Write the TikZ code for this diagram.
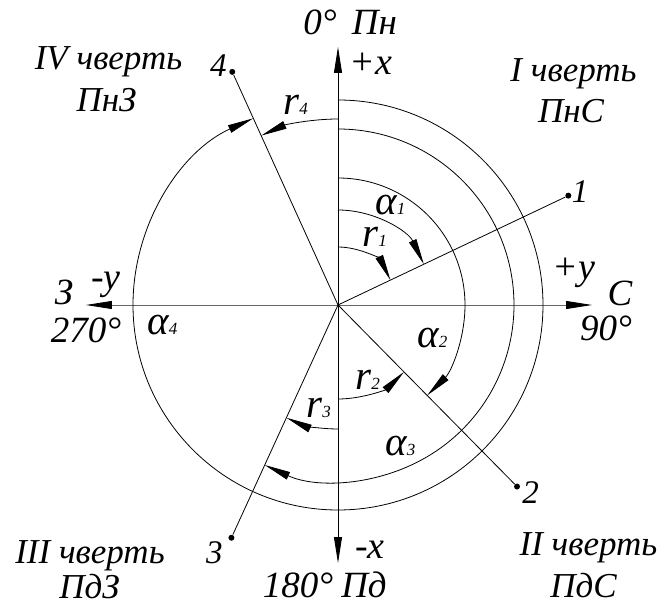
\documentclass[tikz,border=0pt]{standalone}
\usepackage{fontspec}
\setmainfont{Liberation Serif}
\usetikzlibrary{arrows.meta, calc}

\newcommand{\lowidx}[1]{{\fontsize{17}{17}\selectfont #1}}

\begin{document}
\begin{tikzpicture}[
    x=1pt, y=1pt,
    line width=0.8pt,
    every node/.style={inner sep=0pt},
    tip/.style={-{Triangle[length=26pt, width=8pt, color=black]}},
    quad/.style={font=\fontsize{35}{35}\selectfont\itshape, anchor=base},
    biglbl/.style={font=\fontsize{37}{37}\selectfont\itshape, anchor=base},
    midlbl/.style={font=\fontsize{38}{38}\selectfont\itshape, anchor=base},
    numlbl/.style={font=\fontsize{33}{33}\selectfont\itshape, anchor=base},
    arclbl/.style={font=\fontsize{41}{41}\selectfont\itshape, anchor=base west},
    dot/.style={circle, fill=black, minimum size=6pt}
]
\useasboundingbox (-338,-302) rectangle (326,305);

% --- Axes ---
\coordinate (O) at (0,0);
\coordinate (xtop) at (0,258);
\coordinate (xbot) at (0,-258);
\coordinate (yright) at (254,0);
\coordinate (yleft) at (-252,0);
\draw[tip] (O) -- (xtop);
\draw[tip] (O) -- (xbot);
\draw[tip, black!60] (O) -- (yright);
\draw[tip, black!60] (O) -- (yleft);

% --- Points and bearings ---
\node[dot] (p1) at (25.4:255) {};
\node[dot] (p2) at (-45.4:255) {};
\node[dot] (p3) at (245.4:256) {};
\node[dot] (p4) at (114.4:256) {};
\draw (O) -- (p1);
\draw (O) -- (p2);
\draw (O) -- (p3);
\draw (O) -- (p4);

% --- Angle arcs ---
\draw[tip] (90:58) arc[start angle=90, end angle=25.4, radius=58];
\draw[tip] (90:95) arc[start angle=90, end angle=25.4, radius=95];
\draw[tip] (90:127) arc[start angle=90, end angle=-45.4, radius=127];
\draw[tip] (90:176) arc[start angle=90, end angle=-114.6, radius=176];
\draw[tip] (90:205) arc[start angle=90, end angle=-245.6, radius=205];
\draw[tip] (90:186) arc[start angle=90, end angle=114.4, radius=186];
\draw[tip] (-90:94) arc[start angle=-90, end angle=-45.4, radius=94];
\draw[tip] (-90:124) arc[start angle=-90, end angle=-114.6, radius=124];

% --- Axis labels ---
\node[biglbl] (deg0) at (-18,270) {0°};
\node[biglbl] (north) at (36.5,270) {Пн};
\node[midlbl] (xplus) at (33,230) {+x};
\node[midlbl] (yplus) at (236,25) {+y};
\node[biglbl] (east) at (282,-1) {С};
\node[biglbl] (deg90) at (268,-36) {90°};
\node[biglbl] (west) at (-274,0) {З};
\node[midlbl] (yminus) at (-232,15) {-y};
\node[biglbl] (deg270) at (-252,-38) {270°};
\node[biglbl] (deg180) at (-40,-292) {180°};
\node[biglbl] (south) at (26,-292) {Пд};
\node[midlbl] (xminus) at (32,-253) {-x};

% --- Point numbers ---
\node[numlbl] (n1) at (242,102) {1};
\node[numlbl] (n2) at (192.5,-198) {2};
\node[numlbl] (n3) at (-123.5,-258) {3};
\node[numlbl] (n4) at (-119.5,228) {4};

% --- Quarters ---
\node[quad] (q1) at (235.5,223) {I чверть};
\node[quad] (q1s) at (233,182) {ПнС};
\node[quad] (q2) at (250.5,-250) {II чверть};
\node[quad] (q2s) at (245.5,-292) {ПдС};
\node[quad] (q3) at (-248,-258) {III чверть};
\node[quad] (q3s) at (-248.5,-293) {ПдЗ};
\node[quad] (q4) at (-229.5,235) {IV чверть};
\node[quad] (q4s) at (-231.5,193) {ПнЗ};

% --- Arc labels ---
\node[arclbl] (lr1) at (24,58) {r\lowidx{1}};
\node[arclbl] (la1) at (37,90) {α\lowidx{1}};
\node[arclbl] (la2) at (79,-43) {α\lowidx{2}};
\node[arclbl] (lr2) at (17,-85) {r\lowidx{2}};
\node[arclbl] (lr3) at (-32,-113) {r\lowidx{3}};
\node[arclbl] (la3) at (47,-150) {α\lowidx{3}};
\node[arclbl] (la4) at (-191,-30) {α\lowidx{4}};
\node[arclbl] (lr4) at (-55,190) {r\lowidx{4}};
\end{tikzpicture}
\end{document}
